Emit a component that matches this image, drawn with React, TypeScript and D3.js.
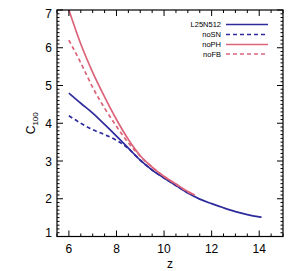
import React, { useRef, useEffect } from 'react';
import * as d3 from 'd3';

// redshift samples for each run
const zFull = [6, 6.5, 7, 7.5, 8, 8.5, 9, 9.5, 10, 10.5, 11, 11.5, 12, 12.5, 13, 13.5, 14, 14.1];
const cFull = [4.8, 4.53, 4.27, 3.97, 3.66, 3.34, 3.02, 2.76, 2.55, 2.35, 2.15, 1.99, 1.87, 1.76, 1.66, 1.58, 1.52, 1.51];

const zNoSN = [6, 6.5, 7, 7.5, 8, 8.5, 9, 9.5, 10, 10.5, 11];
const cNoSN = [4.2, 4.0, 3.83, 3.7, 3.55, 3.33, 3.02, 2.76, 2.55, 2.35, 2.15];

const zNoPH = [6, 6.5, 7, 7.5, 8, 8.5, 9, 9.5, 10, 10.5, 11, 11.3];
const cNoPH = [7.0, 6.1, 5.35, 4.7, 4.1, 3.57, 3.14, 2.84, 2.59, 2.39, 2.19, 2.09];

const zNoFB = [6, 6.5, 7, 7.5, 8, 8.5, 9, 9.5, 10, 10.5, 11, 11.2];
const cNoFB = [6.2, 5.6, 4.95, 4.4, 3.92, 3.48, 3.13, 2.83, 2.59, 2.38, 2.18, 2.11];

const seriesNames = ['L25N512', 'noSN', 'noPH', 'noFB'];
const xTicks = [6, 8, 10, 12, 14];
const yTicks = [1, 2, 3, 4, 5, 6, 7];

const BLUE = '#2e2c9c';
const RED = '#db6479';

const App = () => {
    const svgRef = useRef<SVGSVGElement>(null);

    useEffect(() => {
        const svg = d3.select(svgRef.current);
        svg.selectAll('*').remove();

        const left = 57, right = 283, top = 10, bottom = 236.5;
        const x = d3.scaleLinear().domain([5.5, 15]).range([left, right]);
        const y = d3.scaleLinear().domain([1, 7]).range([bottom, top]);
        const font = 'Liberation Sans, Arial, Helvetica, sans-serif';

        // curves
        const runs = [
            { z: zFull, c: cFull, color: BLUE, dash: null },
            { z: zNoSN, c: cNoSN, color: BLUE, dash: '4,3' },
            { z: zNoPH, c: cNoPH, color: RED, dash: null },
            { z: zNoFB, c: cNoFB, color: RED, dash: '4,3' },
        ];
        const line = d3.line<[number, number]>()
            .x(d => x(d[0]))
            .y(d => y(d[1]))
            .curve(d3.curveMonotoneX);

        // blue ones drawn first, red on top like the original
        [0, 1, 3, 2].forEach(i => {
            const r = runs[i];
            svg.append('path')
                .datum(r.z.map((z, j) => [z, r.c[j]] as [number, number]))
                .attr('fill', 'none')
                .attr('stroke', r.color)
                .attr('stroke-width', 1.7)
                .attr('stroke-dasharray', r.dash)
                .attr('d', line);
        });

        // frame
        svg.append('rect')
            .attr('x', left).attr('y', top)
            .attr('width', right - left).attr('height', bottom - top)
            .attr('fill', 'none').attr('stroke', '#000').attr('stroke-width', 1.2);

        const ticks = svg.append('g').attr('stroke', '#000').attr('stroke-width', 1);

        // x ticks, major every 2, minor every 0.5, on bottom and top
        d3.range(5.5, 15.01, 0.5).forEach(v => {
            const major = Math.abs(v % 2) < 1e-6;
            const len = major ? 6 : 3;
            const px = x(v);
            ticks.append('line').attr('x1', px).attr('x2', px).attr('y1', bottom).attr('y2', bottom - len);
            ticks.append('line').attr('x1', px).attr('x2', px).attr('y1', top).attr('y2', top + len);
        });

        // y ticks, major every 1, minor every 0.1, on left and right
        d3.range(10, 71).forEach(k => {
            const v = k / 10;
            const major = k % 10 === 0;
            const len = major ? 6 : 2.5;
            const py = y(v);
            ticks.append('line').attr('x1', left).attr('x2', left + len).attr('y1', py).attr('y2', py);
            ticks.append('line').attr('x1', right).attr('x2', right - len).attr('y1', py).attr('y2', py);
        });

        // tick labels
        svg.append('g').selectAll('text').data(xTicks).join('text')
            .attr('x', d => x(d)).attr('y', 253)
            .attr('text-anchor', 'middle')
            .attr('font-family', font).attr('font-size', 12)
            .text(d => d);

        svg.append('g').selectAll('text').data(yTicks).join('text')
            .attr('x', 52).attr('y', d => Math.min(232.5, Math.max(13.5, y(d))) + 4.5)
            .attr('text-anchor', 'end')
            .attr('font-family', font).attr('font-size', 12)
            .text(d => d);

        // axis titles
        svg.append('text')
            .attr('x', (left + right) / 2).attr('y', 268)
            .attr('text-anchor', 'middle')
            .attr('font-family', font).attr('font-size', 12)
            .text('z');

        const yt = svg.append('text')
            .attr('transform', `translate(35,${(top + bottom) / 2}) rotate(-90)`)
            .attr('text-anchor', 'middle')
            .attr('font-family', font).attr('font-size', 12);
        yt.append('tspan').text('C');
        yt.append('tspan').attr('font-size', 8).attr('dy', 3).text('100');

        // legend
        const legendY = [24.5, 34.5, 44.5, 54];
        runs.forEach((r, i) => {
            svg.append('text')
                .attr('x', 221).attr('y', legendY[i] + 2.5)
                .attr('text-anchor', 'end')
                .attr('font-family', font).attr('font-size', 7.5)
                .text(seriesNames[i]);
            svg.append('line')
                .attr('x1', 226).attr('x2', 268)
                .attr('y1', legendY[i]).attr('y2', legendY[i])
                .attr('stroke', r.color).attr('stroke-width', 1.7)
                .attr('stroke-dasharray', r.dash);
        });
    }, []);

    return (
        <svg
            ref={svgRef}
            width={293}
            height={271}
            style={{ position: 'absolute', left: 0, top: 0, background: '#fff' }}
        />
    );
};

export default App;
